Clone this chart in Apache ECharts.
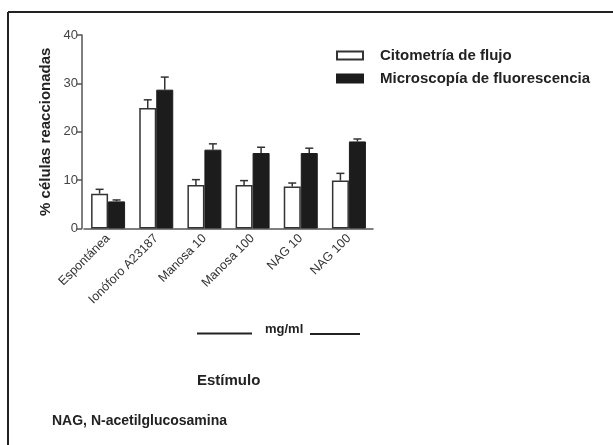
<!DOCTYPE html>
<html>
<head>
<meta charset="utf-8">
<script src="https://cdn.jsdelivr.net/npm/echarts@6/dist/echarts.min.js"></script>
<style>
  html, body { margin: 0; padding: 0; background: #fff; }
  #chart { width: 613px; height: 445px; }
</style>
</head>
<body>
<div id="chart"></div>
<script>
// Stimulus categories
const categories = ['Espontánea', 'Ionóforo A23187', 'Manosa 10', 'Manosa 100', 'NAG 10', 'NAG 100'];
// Mean % of reacted cells per method
const citometria = [7.2, 24.9, 9.0, 9.0, 8.7, 9.9];
const microscopia = [5.6, 28.7, 16.3, 15.6, 15.6, 18.0];
// Standard error (upper whisker)
const citometriaErr = [0.9, 1.7, 1.1, 0.9, 0.7, 1.5];
const microscopiaErr = [0.3, 2.6, 1.2, 1.2, 1.0, 0.5];
const yTicks = [0, 10, 20, 30, 40];

const FONT = '"Liberation Sans", Arial, sans-serif';
const BAR_W = 17;

function errorSeries(means, errs, side) {
  return {
    type: 'custom',
    silent: true,
    z: 5,
    data: means.map((m, i) => [i, m, m + errs[i]]),
    renderItem: function (params, api) {
      const base = api.coord([api.value(0), api.value(1)]);
      const top = api.coord([api.value(0), api.value(2)]);
      const x = base[0] + side * BAR_W / 2;
      const style = { stroke: '#333', lineWidth: 1.5 };
      return {
        type: 'group',
        children: [
          { type: 'line', shape: { x1: x, y1: base[1], x2: x, y2: top[1] }, style },
          { type: 'line', shape: { x1: x - 4, y1: top[1], x2: x + 4, y2: top[1] }, style }
        ]
      };
    }
  };
}

const chart = echarts.init(document.getElementById('chart'), null, { renderer: 'canvas' });
chart.setOption({
  backgroundColor: '#fff',
  animation: false,
  textStyle: { fontFamily: FONT },
  grid: { left: 84, right: 240, top: 35, bottom: 216.5, containLabel: false },
  legend: {
    orient: 'vertical',
    left: 331,
    top: 43,
    itemWidth: 26,
    itemHeight: 8,
    itemGap: 8,
    icon: 'rect',
    data: ['Citometría de flujo', 'Microscopía de fluorescencia'],
    textStyle: { fontFamily: FONT, fontSize: 15, fontWeight: 'bold', color: '#222', padding: [0, 0, 0, 12] }
  },
  xAxis: {
    type: 'category',
    data: categories,
    axisLine: { lineStyle: { color: '#555', width: 1.5 } },
    axisTick: { show: false },
    axisLabel: { rotate: 45, fontSize: 12.5, color: '#333', margin: 8, fontFamily: FONT }
  },
  yAxis: {
    type: 'value',
    min: 0,
    max: 40,
    interval: 10,
    offset: 2,
    name: '% células reaccionadas',
    nameLocation: 'middle',
    nameGap: 29,
    nameTextStyle: { fontSize: 15, fontWeight: 'bold', color: '#222', fontFamily: FONT },
    axisLine: { show: true, lineStyle: { color: '#555', width: 1.5 } },
    axisTick: { show: true, length: 5, lineStyle: { color: '#555', width: 1.5 } },
    splitLine: { show: false },
    axisLabel: {
      fontSize: 13, color: '#444', margin: 4, fontFamily: FONT,
      formatter: v => yTicks.includes(v) ? String(v) : ''
    }
  },
  series: [
    {
      name: 'Citometría de flujo',
      type: 'bar',
      data: citometria,
      barWidth: BAR_W,
      barGap: '0%',
      itemStyle: { color: '#fff', borderColor: '#333', borderWidth: 1.5 }
    },
    {
      name: 'Microscopía de fluorescencia',
      type: 'bar',
      data: microscopia,
      barWidth: BAR_W,
      barGap: '0%',
      itemStyle: { color: '#1c1c1c', borderColor: '#1c1c1c', borderWidth: 1 }
    },
    errorSeries(citometria, citometriaErr, -1),
    errorSeries(microscopia, microscopiaErr, 1)
  ],
  graphic: [
    // frame edges
    { type: 'line', shape: { x1: 8, y1: 12, x2: 613, y2: 12 }, style: { stroke: '#222', lineWidth: 2 } },
    { type: 'line', shape: { x1: 8, y1: 12, x2: 8, y2: 445 }, style: { stroke: '#222', lineWidth: 2 } },
    // concentration bracket
    { type: 'line', shape: { x1: 197, y1: 333.5, x2: 252, y2: 333.5 }, style: { stroke: '#222', lineWidth: 2 } },
    { type: 'text', left: 265, top: 323, style: { text: 'mg/ml', font: 'bold 13px ' + FONT, fill: '#222' } },
    { type: 'line', shape: { x1: 310, y1: 334, x2: 360, y2: 334 }, style: { stroke: '#222', lineWidth: 2 } },
    { type: 'text', left: 197, top: 373, style: { text: 'Estímulo', font: 'bold 15px ' + FONT, fill: '#222' } },
    { type: 'text', left: 52, top: 414, style: { text: 'NAG, N-acetilglucosamina', font: 'bold 14px ' + FONT, fill: '#222' } }
  ]
});
</script>
</body>
</html>
